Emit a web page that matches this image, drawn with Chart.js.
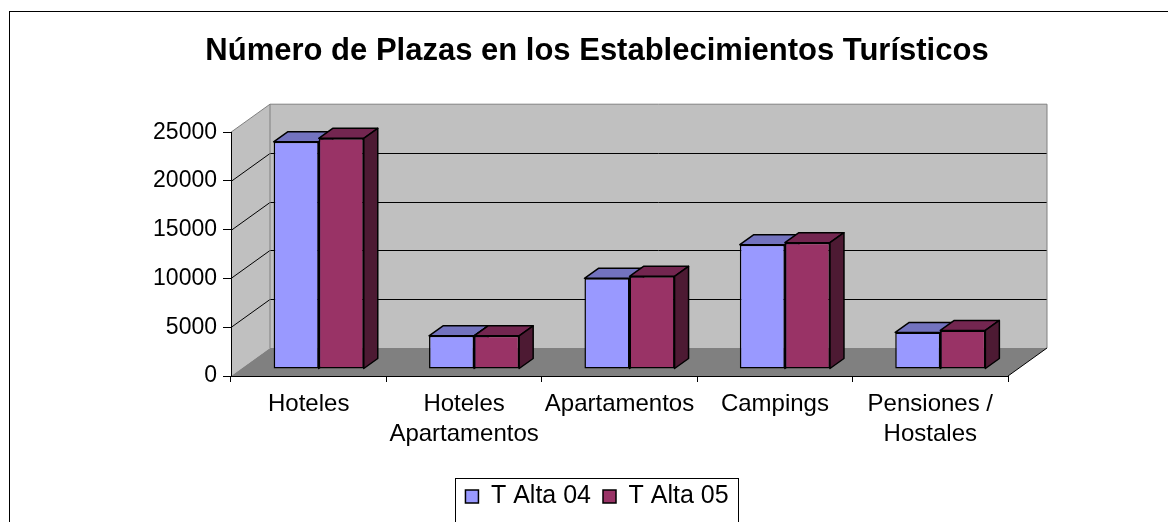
<!DOCTYPE html>
<html>
<head>
<meta charset="utf-8">
<script src="https://cdn.jsdelivr.net/npm/chart.js@4/dist/chart.umd.min.js"></script>
<style>
  html, body { margin: 0; padding: 0; background: #fff; }
</style>
</head>
<body>
<canvas id="grafico" width="1168" height="522"></canvas>
<script>
// datos
const categorias = [['Hoteles'], ['Hoteles', 'Apartamentos'], ['Apartamentos'], ['Campings'], ['Pensiones /', 'Hostales']]
const tAlta04 = [23300, 3400, 9300, 12750, 3750]
const tAlta05 = [23650, 3400, 9500, 12950, 3950]
const ticksY = [0, 5000, 10000, 15000, 20000, 25000]

// perspectiva: fondo de la caja, plano frontal de las barras y profundidad de barra
const fondo = { dx: 39, dy: -28 }
const planoBarras = { dx: 10, dy: -7 }
const profBarra = { dx: 14, dy: -10 }

const familia = 'Arial, "Liberation Sans", sans-serif'
Chart.defaults.font.family = familia
Chart.defaults.color = '#000'

// ancho de la etiqueta más larga del eje Y (las etiquetas se salen del eje a la izquierda)
const medida = document.createElement('canvas').getContext('2d')
medida.font = '23px ' + familia
const anchoEtiquetaY = Math.max(...ticksY.map(v => medida.measureText(String(v)).width))

function poligono(ctx, pts, relleno, trazo, ancho) {
    ctx.beginPath()
    ctx.moveTo(pts[0][0], pts[0][1])
    for (let k = 1; k < pts.length; k++) ctx.lineTo(pts[k][0], pts[k][1])
    ctx.closePath()
    if (relleno) { ctx.fillStyle = relleno; ctx.fill() }
    if (trazo) { ctx.strokeStyle = trazo; ctx.lineWidth = ancho || 1; ctx.stroke() }
}

function linea(ctx, pts, color) {
    ctx.beginPath()
    ctx.moveTo(pts[0][0], pts[0][1])
    for (let k = 1; k < pts.length; k++) ctx.lineTo(pts[k][0], pts[k][1])
    ctx.strokeStyle = color
    ctx.lineWidth = 1
    ctx.stroke()
}

// paredes y suelo de la caja 3D
const caja3d = {
    id: 'caja3d',
    beforeDraw(chart) {
        const ctx = chart.ctx
        const x = chart.scales.x, y = chart.scales.y
        const l = x.left, r = x.right
        const b = y.getPixelForValue(ticksY[0]), t = y.getPixelForValue(ticksY[ticksY.length - 1])
        const fx = fondo.dx, fy = fondo.dy
        ctx.save()
        ctx.fillStyle = '#fff'
        ctx.fillRect(0, 0, chart.width, chart.height)
        ctx.strokeStyle = '#000'
        ctx.lineWidth = 1
        ctx.strokeRect(9.5, 11.5, chart.width + 20, chart.height + 20)

        poligono(ctx, [[l + fx, t + fy], [r + fx, t + fy], [r + fx, b + fy], [l + fx, b + fy]], '#c0c0c0')
        poligono(ctx, [[l, b], [l, t], [l + fx, t + fy], [l + fx, b + fy]], '#c0c0c0')
        poligono(ctx, [[l, b], [r, b], [r + fx, b + fy], [l + fx, b + fy]], '#808080')

        ticksY.slice(1, -1).forEach(v => {
            const py = Math.round(y.getPixelForValue(v)) + 0.5
            linea(ctx, [[l, py], [l + fx, py + fy], [r + fx, py + fy]], '#000')
        })
        linea(ctx, [[l, t], [l + fx, t + fy], [r + fx, t + fy], [r + fx, b + fy]], '#808080')
        linea(ctx, [[l + fx, t + fy], [l + fx, b + fy]], '#808080')
        linea(ctx, [[r, b], [r + fx, b + fy]], '#000')
        ctx.restore()
    },
    afterDraw(chart) {
        // marco de la leyenda
        const cajas = chart.legend.legendHitBoxes
        if (!cajas || !cajas.length) return
        const izq = Math.min(...cajas.map(c => c.left)) - 10
        const der = Math.max(...cajas.map(c => c.left + c.width)) + 10
        const ctx = chart.ctx
        ctx.save()
        ctx.strokeStyle = '#000'
        ctx.lineWidth = 1
        ctx.strokeRect(Math.round(izq) + 0.5, Math.round(chart.legend.top) + 6.5, Math.round(der - izq), 60)
        ctx.restore()
    }
}

// barras con tapa y lateral, dibujadas desde los elementos de Chart.js
const barras3d = {
    id: 'barras3d',
    beforeDatasetsDraw(chart) {
        const ctx = chart.ctx
        ctx.save()
        ctx.translate(planoBarras.dx, planoBarras.dy)
        ctx.lineJoin = 'round'
        for (let i = 0; i < chart.data.labels.length; i++) {
            chart.data.datasets.forEach((ds, d) => {
                const el = chart.getDatasetMeta(d).data[i]
                el.draw(ctx)
                const { x, y, base, width } = el.getProps(['x', 'y', 'base', 'width'], true)
                const izq = x - width / 2, der = x + width / 2
                const px = profBarra.dx, py = profBarra.dy
                poligono(ctx, [[izq, y], [izq + px, y + py], [der + px, y + py], [der, y]], ds.colorTapa, '#000', 1.5)
                poligono(ctx, [[der, y], [der + px, y + py], [der + px, base + py], [der, base]], ds.colorLado, '#000', 1.5)
            })
        }
        ctx.restore()
        return false
    }
}

const ctxGrafico = document.getElementById('grafico')

new Chart(ctxGrafico, {
    type: 'bar',
    data: {
        labels: categorias,
        datasets: [{
            label: 'T Alta 04',
            data: tAlta04,
            backgroundColor: '#9999ff',
            colorTapa: '#7373bf',
            colorLado: '#4d4d80',
            borderColor: '#000',
            borderWidth: 1.5,
            borderSkipped: false
        }, {
            label: 'T Alta 05',
            data: tAlta05,
            backgroundColor: '#993366',
            colorTapa: '#732650',
            colorLado: '#4d1a33',
            borderColor: '#000',
            borderWidth: 1.5,
            borderSkipped: false
        }]
    },
    options: {
        responsive: false,
        animation: false,
        categoryPercentage: 0.58,
        barPercentage: 1,
        layout: { padding: { left: 186, right: 160, top: 0, bottom: 3 } },
        plugins: {
            tooltip: { enabled: false },
            title: {
                display: true,
                text: 'Número de Plazas en los Establecimientos Turísticos',
                color: '#000',
                font: { size: 31, weight: 'bold' },
                padding: { top: 33, bottom: 62 }
            },
            legend: {
                position: 'bottom',
                labels: {
                    color: '#000',
                    font: { size: 25 },
                    boxWidth: 13,
                    boxHeight: 13,
                    padding: 12
                }
            }
        },
        scales: {
            x: {
                afterFit: (s) => { s.height = 96 },
                grid: { drawOnChartArea: false, drawTicks: true, tickLength: 6, color: '#000' },
                border: { display: true, color: '#000' },
                ticks: {
                    color: '#000',
                    font: { size: 24, lineHeight: 1.25 },
                    padding: 7,
                    maxRotation: 0,
                    autoSkip: false
                }
            },
            y: {
                min: 0,
                max: 25000,
                afterFit: (s) => { s.width = 45 },
                afterBuildTicks: (s) => { s.ticks = ticksY.map(v => ({ value: v })) },
                grid: { drawOnChartArea: false, drawTicks: true, tickLength: 8, color: '#000' },
                border: { display: true, color: '#000' },
                ticks: {
                    color: '#000',
                    font: { size: 23 },
                    mirror: true,
                    crossAlign: 'far',
                    padding: -14 - anchoEtiquetaY,
                    callback: (v) => String(v)
                }
            }
        }
    },
    plugins: [caja3d, barras3d]
})
</script>
</body>
</html>
